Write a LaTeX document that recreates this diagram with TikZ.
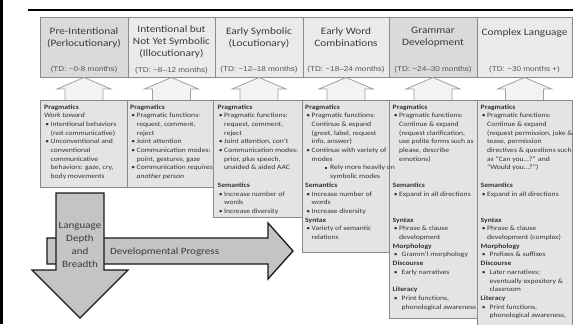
\documentclass[tikz,border=0pt]{standalone}
\usepackage{fontspec}
\setmainfont{Carlito}[FakeStretch=1.15]
\newfontfamily\agefont{Liberation Sans}[FakeStretch=1.15]

% one line of a panel: heading, italic line, bullet, continuation, sub-bullet, gap
\newcommand\bxHead[1]{\hbox{\bfseries #1}}
\newcommand\bxIt[1]{\hbox{\itshape #1}}
\newcommand\bxItem[1]{\hbox{\hbox to 6.5pt{\hskip1.2pt\textbullet\hss}#1}}
\newcommand\bxCont[1]{\hbox{\hskip6.5pt #1}}
\newcommand\bxItemW[1]{\hbox{\hbox to 9pt{\hskip1.2pt\textbullet\hss}#1}}
\newcommand\bxContW[1]{\hbox{\hskip9pt #1}}
\newcommand\bxSub[1]{\hbox{\hskip20pt\hbox to 5pt{\rule[0.8pt]{1.8pt}{1.8pt}\hss}#1}}
\newcommand\bxSubCont[1]{\hbox{\hskip25pt #1}}
\newcommand\bxGap{\hbox{}}

\definecolor{headline}{HTML}{8A8A8A}
\definecolor{headdark}{HTML}{DADADA}
\definecolor{headlight}{HTML}{EAEAEA}
\definecolor{titletext}{HTML}{3A3A3A}
\definecolor{agetext}{HTML}{555555}
\definecolor{panelline}{HTML}{8A8A8A}
\definecolor{panelfill}{HTML}{E4E4E4}
\definecolor{bodytext}{HTML}{333333}
\definecolor{uparrowline}{HTML}{A0A0A0}
\definecolor{uparrowfill}{HTML}{F3F3F3}
\definecolor{bigfill}{HTML}{C4C4C4}

\begin{document}
\begin{tikzpicture}[x=1pt,y=-1pt,
  headbox/.style={draw=headline, line width=0.7pt},
  title/.style={font=\fontsize{9.8}{12}\selectfont, text=titletext, align=center, inner sep=0pt},
  age/.style={font=\agefont\fontsize{7.1}{8}\selectfont, text=agetext, inner sep=0pt},
  panel/.style={draw=panelline, fill=panelfill, line width=0.6pt},
  body/.style={font=\fontsize{6.65}{8.7}\selectfont, text=bodytext, inner sep=0pt, anchor=base west},
  uparrow/.style={draw=uparrowline, fill=uparrowfill, line width=0.8pt, line join=miter},
  bigarrow/.style={draw=black!90, fill=bigfill, line width=1.3pt, line join=miter},
  biglabel/.style={font=\fontsize{9.6}{13}\selectfont, text=titletext, inner sep=0pt}]

\path[use as bounding box] (0,0) rectangle (581,324);
\clip (0,0) rectangle (581,324);

% frame: left bar and top rule
\fill[black] (0,0) rectangle (3.3,324);
\draw[line width=2pt] (28,10) -- (573,10);

% stage headers
\path[headbox, fill=headdark]  (40,17)  rectangle (128,77);
\path[headbox, fill=headlight] (128,17) rectangle (215,77);
\path[headbox, fill=headlight] (215,17) rectangle (303,77);
\path[headbox, fill=headlight] (303,17) rectangle (389,77);
\path[headbox, fill=headdark]  (389,17) rectangle (477,77);
\path[headbox, fill=headlight] (477,17) rectangle (572,77);

\node[title] (t1) at (84,37.5)   {Pre-Intentional\\(Perlocutionary)};
\node[title] (t2) at (171.5,42.2) {Intentional but\\Not Yet Symbolic\\(Illocutionary)};
\node[title] (t3) at (259,37.5)  {Early Symbolic\\(Locutionary)};
\node[title] (t4) at (346,37.5)  {Early Word\\Combinations};
\node[title] (t5) at (433,37)    {Grammar\\Development};
\node[title] (t6) at (524.5,33.3) {Complex Language};

\node[age] (a1) at (84,70)    {(TD: \textasciitilde0-8 months)};
\node[age] (a2) at (171.5,70.5) {(TD: \textasciitilde8–12 months)};
\node[age] (a3) at (259,70)   {(TD: \textasciitilde12–18 months)};
\node[age] (a4) at (346,70)   {(TD: \textasciitilde18–24 months)};
\node[age] (a5) at (433,70)   {(TD: \textasciitilde24–30 months)};
\node[age] (a6) at (524.5,70) {(TD: \textasciitilde30 months +)};

% hollow arrows from each panel up to its header
\foreach \c in {84,171.5,259,346,433,524.5}
  \path[uparrow] (\c,77.5) -- (\c+27,89) -- (\c+19,89) -- (\c+19,101)
     -- (\c-19,101) -- (\c-19,89) -- (\c-27,89) -- cycle;

% detail panels
\path[panel] (40,100)  rectangle (127,187);
\path[panel] (127,100) rectangle (213,187);
\path[panel] (213,100) rectangle (302,217);
\path[panel] (302,100) rectangle (389,252);
\path[panel] (389,100) rectangle (477,318);
\path[panel] (477,100) rectangle (572,340);

\node[body] (p1) at (44,109) {\vtop{%
  \bxHead{Pragmatics}
  \bxIt{Work toward}
  \bxItem{Intentional behaviors}
  \bxCont{(not communicative)}
  \bxItem{Unconventional and}
  \bxCont{conventional}
  \bxCont{communicative}
  \bxCont{behaviors: gaze, cry,}
  \bxCont{body movements}}};

\node[body] (p2) at (130,109) {\vtop{%
  \bxHead{Pragmatics}
  \bxItem{Pragmatic functions:}
  \bxCont{request, comment,}
  \bxCont{reject}
  \bxItem{Joint attention}
  \bxItem{Communication modes:}
  \bxCont{point, gestures, gaze}
  \bxItem{Communication \textit{requires}}
  \bxCont{\textit{another person}}}};

\node[body] (p3) at (217.5,109) {\vtop{%
  \bxHead{Pragmatics}
  \bxItem{Pragmatic functions:}
  \bxCont{request, comment,}
  \bxCont{reject}
  \bxItem{Joint attention, con't}
  \bxItem{Communication modes:}
  \bxCont{prior, plus speech,}
  \bxCont{unaided \& aided AAC}
  \bxGap
  \bxHead{Semantics}
  \bxItem{Increase number of}
  \bxCont{words}
  \bxItem{Increase diversity}}};

\node[body] (p4) at (305,109) {\vtop{%
  \bxHead{Pragmatics}
  \bxItem{Pragmatic functions:}
  \bxCont{Continue \& expand}
  \bxCont{(greet, label, request}
  \bxCont{info, answer)}
  \bxItem{Continue with variety of}
  \bxCont{modes}
  \bxSub{Rely more heavily on}
  \bxSubCont{symbolic modes}
  \bxHead{Semantics}
  \bxItem{Increase number of}
  \bxCont{words}
  \bxItem{Increase diversity}
  \bxHead{Syntax}
  \bxItem{Variety of semantic}
  \bxCont{relations}}};

\node[body] (p5) at (392.5,109) {\vtop{%
  \bxHead{Pragmatics}
  \bxItem{Pragmatic functions:}
  \bxCont{Continue \& expand}
  \bxCont{(request clarification,}
  \bxCont{use polite forms such as}
  \bxCont{please, describe}
  \bxCont{emotions)}
  \bxGap
  \bxGap
  \bxHead{Semantics}
  \bxItem{Expand in all directions}
  \bxGap
  \bxGap
  \bxHead{Syntax}
  \bxItem{Phrase \& clause}
  \bxCont{development}
  \bxHead{Morphology}
  \bxItemW{Gramm'l morphology}
  \bxHead{Discourse}
  \bxItemW{Early narratives}
  \bxGap
  \bxHead{Literacy}
  \bxItemW{Print functions,}
  \bxContW{phonological awareness}}};

\node[body] (p6) at (480.5,109) {\vtop{%
  \bxHead{Pragmatics}
  \bxItem{Pragmatic functions:}
  \bxCont{Continue \& expand}
  \bxCont{(request permission, joke \&}
  \bxCont{tease, permission}
  \bxCont{directives \& questions such}
  \bxCont{as “Can you…?” and}
  \bxCont{“Would you…?”)}
  \bxGap
  \bxHead{Semantics}
  \bxItem{Expand in all directions}
  \bxGap
  \bxGap
  \bxHead{Syntax}
  \bxItem{Phrase \& clause}
  \bxCont{development (complex)}
  \bxHead{Morphology}
  \bxItemW{Prefixes \& suffixes}
  \bxHead{Discourse}
  \bxItemW{Later narratives;}
  \bxContW{eventually expository \&}
  \bxContW{classroom}
  \bxHead{Literacy}
  \bxItemW{Print functions,}
  \bxContW{phonological awareness,}}};

% progress arrow (behind) and depth arrow (front)
\path[bigarrow] (47,238) -- (268,238) -- (268,223) -- (293,251)
   -- (268,279) -- (268,264) -- (47,264) -- cycle;
\path[bigarrow] (56,193) -- (104,193) -- (104,270) -- (128,270)
   -- (80,318) -- (32,270) -- (56,270) -- cycle;

\node[biglabel, align=center] (depth) at (80,245) {Language\\Depth\\and\\Breadth};
\node[biglabel, anchor=west] (progress) at (110,251.5) {Developmental Progress};

\end{tikzpicture}
\end{document}
